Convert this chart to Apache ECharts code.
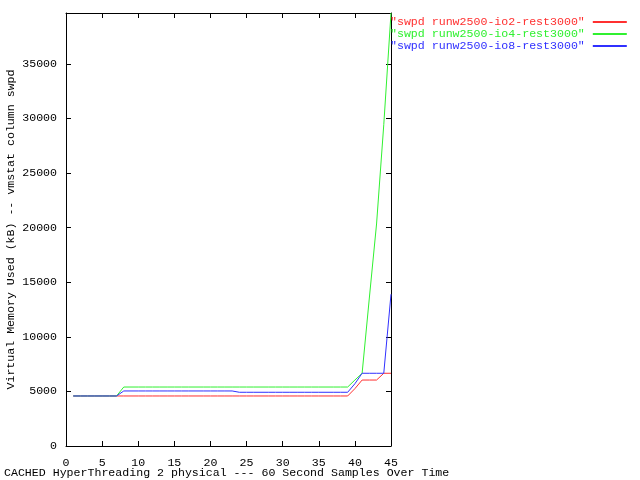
<!DOCTYPE html>
<html><head><meta charset="utf-8">
<script src="https://cdn.jsdelivr.net/npm/echarts@6/dist/echarts.min.js"></script>
<style>html,body{margin:0;padding:0;background:#fff}#c{width:640px;height:480px}</style>
</head><body><div id="c"></div>
<script>
var samples = [1,2,3,4,5,6,7,8,9,10,11,12,13,14,15,16,17,18,19,20,21,22,23,24,25,26,27,28,29,30,31,32,33,34,35,36,37,38,39,40,41,42,43,44,45];
var io2 = [4580,4580,4580,4580,4580,4580,4580,4580,4580,4580,4580,4580,4580,4580,4580,4580,4580,4580,4580,4580,4580,4580,4580,4580,4580,4580,4580,4580,4580,4580,4580,4580,4580,4580,4580,4580,4580,4580,4580,5250,6040,6040,6040,6660,6660];
var io4 = [4580,4580,4580,4580,4580,4580,4580,5400,5400,5400,5400,5400,5400,5400,5400,5400,5400,5400,5400,5400,5400,5400,5400,5400,5400,5400,5400,5400,5400,5400,5400,5400,5400,5400,5400,5400,5400,5400,5400,6040,6660,13550,20330,29420,39650];
var io8 = [4580,4580,4580,4580,4580,4580,4580,5040,5040,5040,5040,5040,5040,5040,5040,5040,5040,5040,5040,5040,5040,5040,5040,4920,4920,4920,4920,4920,4920,4920,4920,4920,4920,4920,4920,4920,4920,4920,4920,5700,6660,6660,6660,6660,13900];
var seriesNames = ['"swpd runw2500-io2-rest3000"','"swpd runw2500-io4-rest3000"','"swpd runw2500-io8-rest3000"'];
var colors = ['#ff3030','#30f030','#3030ff'];
var xMin = 0, xMax = 45, xStep = 5;
var yMin = 0, yMax = 39650, yStep = 5000;

var FONT = 'Liberation Mono';
var FS = 11.6;
function pairs(ys){ return samples.map(function(x,i){ return [x, ys[i]]; }); }
var all = [io2, io4, io8];
var chart = echarts.init(document.getElementById('c'), null, {renderer:'canvas'});
function axisCommon(){ return {
  axisLine:{show:true, onZero:false, lineStyle:{color:'#000', width:1}},
  axisTick:{show:true, inside:true, length:5, lineStyle:{color:'#000'}},
  splitLine:{show:false}
};}
chart.setOption({
  animation:false,
  color: colors,
  textStyle:{fontFamily:FONT, fontSize:FS, color:'#000'},
  grid:{left:66, right:249, top:13, bottom:34, containLabel:false, outerBoundsMode:'none'},
  legend:{
    orient:'vertical', left:385, top:11, align:'right',
    itemWidth:34, itemHeight:2, itemGap:0, icon:'rect',
    data: seriesNames.map(function(n,i){ return {name:n, textStyle:{color:colors[i]}}; }),
    textStyle:{fontFamily:FONT, fontSize:FS, lineHeight:12, padding:[0,3,0,0]}
  },
  xAxis:[
    Object.assign({type:'value', min:xMin, max:xMax, interval:xStep, position:'bottom',
      axisLabel:{color:'#000', fontFamily:FONT, fontSize:FS, margin:11}}, axisCommon()),
    Object.assign({type:'value', min:xMin, max:xMax, interval:xStep, position:'top',
      axisLabel:{show:false}}, axisCommon())
  ],
  yAxis:[
    Object.assign({type:'value', min:yMin, max:yMax, interval:yStep, position:'left',
      name:'Virtual Memory Used (kB) -- vmstat column swpd', nameLocation:'middle', nameGap:49,
      nameMoveOverlap:false,
      nameTextStyle:{color:'#000', fontFamily:FONT, fontSize:FS},
      axisLabel:{color:'#000', fontFamily:FONT, fontSize:FS, margin:9, showMaxLabel:false,
        formatter:function(v){ return String(v); }}}, axisCommon()),
    Object.assign({type:'value', min:yMin, max:yMax, interval:yStep, position:'right',
      axisLabel:{show:false}}, axisCommon())
  ],
  graphic:[{type:'text', left:4, top:467,
    style:{text:'CACHED HyperThreading 2 physical --- 60 Second Samples Over Time', fill:'#000', font:FS+'px "'+FONT+'"'}}],
  series: all.map(function(ys,i){
    return {name:seriesNames[i], type:'line', data:pairs(ys), showSymbol:false, symbol:'none',
      lineStyle:{width:1, color:colors[i]}, itemStyle:{color:colors[i]}, xAxisIndex:0, yAxisIndex:0, silent:true};
  })
});
</script></body></html>
